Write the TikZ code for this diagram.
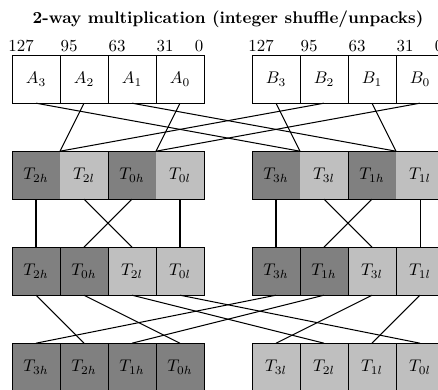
\documentclass[tikz,border=0pt]{standalone}
\usepackage{tikz}

\begin{document}
\begin{tikzpicture}[
  cell/.style={minimum width=1cm, minimum height=1cm, inner sep=0pt, outer sep=0pt},
  plain/.style={cell, draw},
  hi/.style={cell, fill=gray},
  lo/.style={cell, fill=lightgray},
  bits/.style={anchor=south, inner sep=2pt},
  wire/.style={semithick}
]
\useasboundingbox (0,0) rectangle (9.125,-8.125);

\node[font=\bfseries] (title) at (4.75,-0.4) {2-way multiplication (integer shuffle/unpacks)};

% bit positions above the two registers
\foreach \x/\b [count=\i] in {0.44/127, 1.44/95, 2.44/63, 3.44/31, 4.15/0}{
  \node[bits] (la\i) at (\x,-1.15) {\b};
  \node[bits] (lb\i) at (\x+5,-1.15) {\b};
}

% input registers
\node[plain] (a3) at (0.75,-1.65) {$A_3$};
\node[plain] (a2) at (1.75,-1.65) {$A_2$};
\node[plain] (a1) at (2.75,-1.65) {$A_1$};
\node[plain] (a0) at (3.75,-1.65) {$A_0$};
\node[plain] (b3) at (5.75,-1.65) {$B_3$};
\node[plain] (b2) at (6.75,-1.65) {$B_2$};
\node[plain] (b1) at (7.75,-1.65) {$B_1$};
\node[plain] (b0) at (8.75,-1.65) {$B_0$};

% products, high/low halves
\node[hi] (p2h) at (0.75,-3.65) {$T_{2h}$};
\node[lo] (p2l) at (1.75,-3.65) {$T_{2l}$};
\node[hi] (p0h) at (2.75,-3.65) {$T_{0h}$};
\node[lo] (p0l) at (3.75,-3.65) {$T_{0l}$};
\node[hi] (p3h) at (5.75,-3.65) {$T_{3h}$};
\node[lo] (p3l) at (6.75,-3.65) {$T_{3l}$};
\node[hi] (p1h) at (7.75,-3.65) {$T_{1h}$};
\node[lo] (p1l) at (8.75,-3.65) {$T_{1l}$};
\draw (p2h.north west) rectangle (p2l.south east);
\draw (p0h.north west) rectangle (p0l.south east);
\draw (p3h.north west) rectangle (p3l.south east);
\draw (p1h.north west) rectangle (p1l.south east);

% after first shuffle
\node[hi, draw] (q2h) at (0.75,-5.65) {$T_{2h}$};
\node[hi, draw] (q0h) at (1.75,-5.65) {$T_{0h}$};
\node[lo, draw] (q2l) at (2.75,-5.65) {$T_{2l}$};
\node[lo, draw] (q0l) at (3.75,-5.65) {$T_{0l}$};
\node[hi, draw] (q3h) at (5.75,-5.65) {$T_{3h}$};
\node[hi, draw] (q1h) at (6.75,-5.65) {$T_{1h}$};
\node[lo, draw] (q3l) at (7.75,-5.65) {$T_{3l}$};
\node[lo, draw] (q1l) at (8.75,-5.65) {$T_{1l}$};

% after unpacks
\node[hi, draw] (r3h) at (0.75,-7.65) {$T_{3h}$};
\node[hi, draw] (r2h) at (1.75,-7.65) {$T_{2h}$};
\node[hi, draw] (r1h) at (2.75,-7.65) {$T_{1h}$};
\node[hi, draw] (r0h) at (3.75,-7.65) {$T_{0h}$};
\node[lo, draw] (r3l) at (5.75,-7.65) {$T_{3l}$};
\node[lo, draw] (r2l) at (6.75,-7.65) {$T_{2l}$};
\node[lo, draw] (r1l) at (7.75,-7.65) {$T_{1l}$};
\node[lo, draw] (r0l) at (8.75,-7.65) {$T_{0l}$};

% multiply
\draw[wire] (a3.south) -- (p3h.north east);
\draw[wire] (b3.south) -- (p3h.north east);
\draw[wire] (a2.south) -- (p2h.north east);
\draw[wire] (b2.south) -- (p2h.north east);
\draw[wire] (a1.south) -- (p1h.north east);
\draw[wire] (b1.south) -- (p1h.north east);
\draw[wire] (a0.south) -- (p0h.north east);
\draw[wire] (b0.south) -- (p0h.north east);

% shuffle
\draw[wire] (p2h.south) -- (q2h.north);
\draw[wire] (p2l.south) -- (q2l.north);
\draw[wire] (p0h.south) -- (q0h.north);
\draw[wire] (p0l.south) -- (q0l.north);
\draw[wire] (p3h.south) -- (q3h.north);
\draw[wire] (p3l.south) -- (q3l.north);
\draw[wire] (p1h.south) -- (q1h.north);
\draw[wire] (p1l.south) -- (q1l.north);

% unpack
\draw[wire] (q2h.south) -- (r2h.north);
\draw[wire] (q0h.south) -- (r0h.north);
\draw[wire] (q2l.south) -- (r2l.north);
\draw[wire] (q0l.south) -- (r0l.north);
\draw[wire] (q3h.south) -- (r3h.north);
\draw[wire] (q1h.south) -- (r1h.north);
\draw[wire] (q3l.south) -- (r3l.north);
\draw[wire] (q1l.south) -- (r1l.north);
\end{tikzpicture}
\end{document}
